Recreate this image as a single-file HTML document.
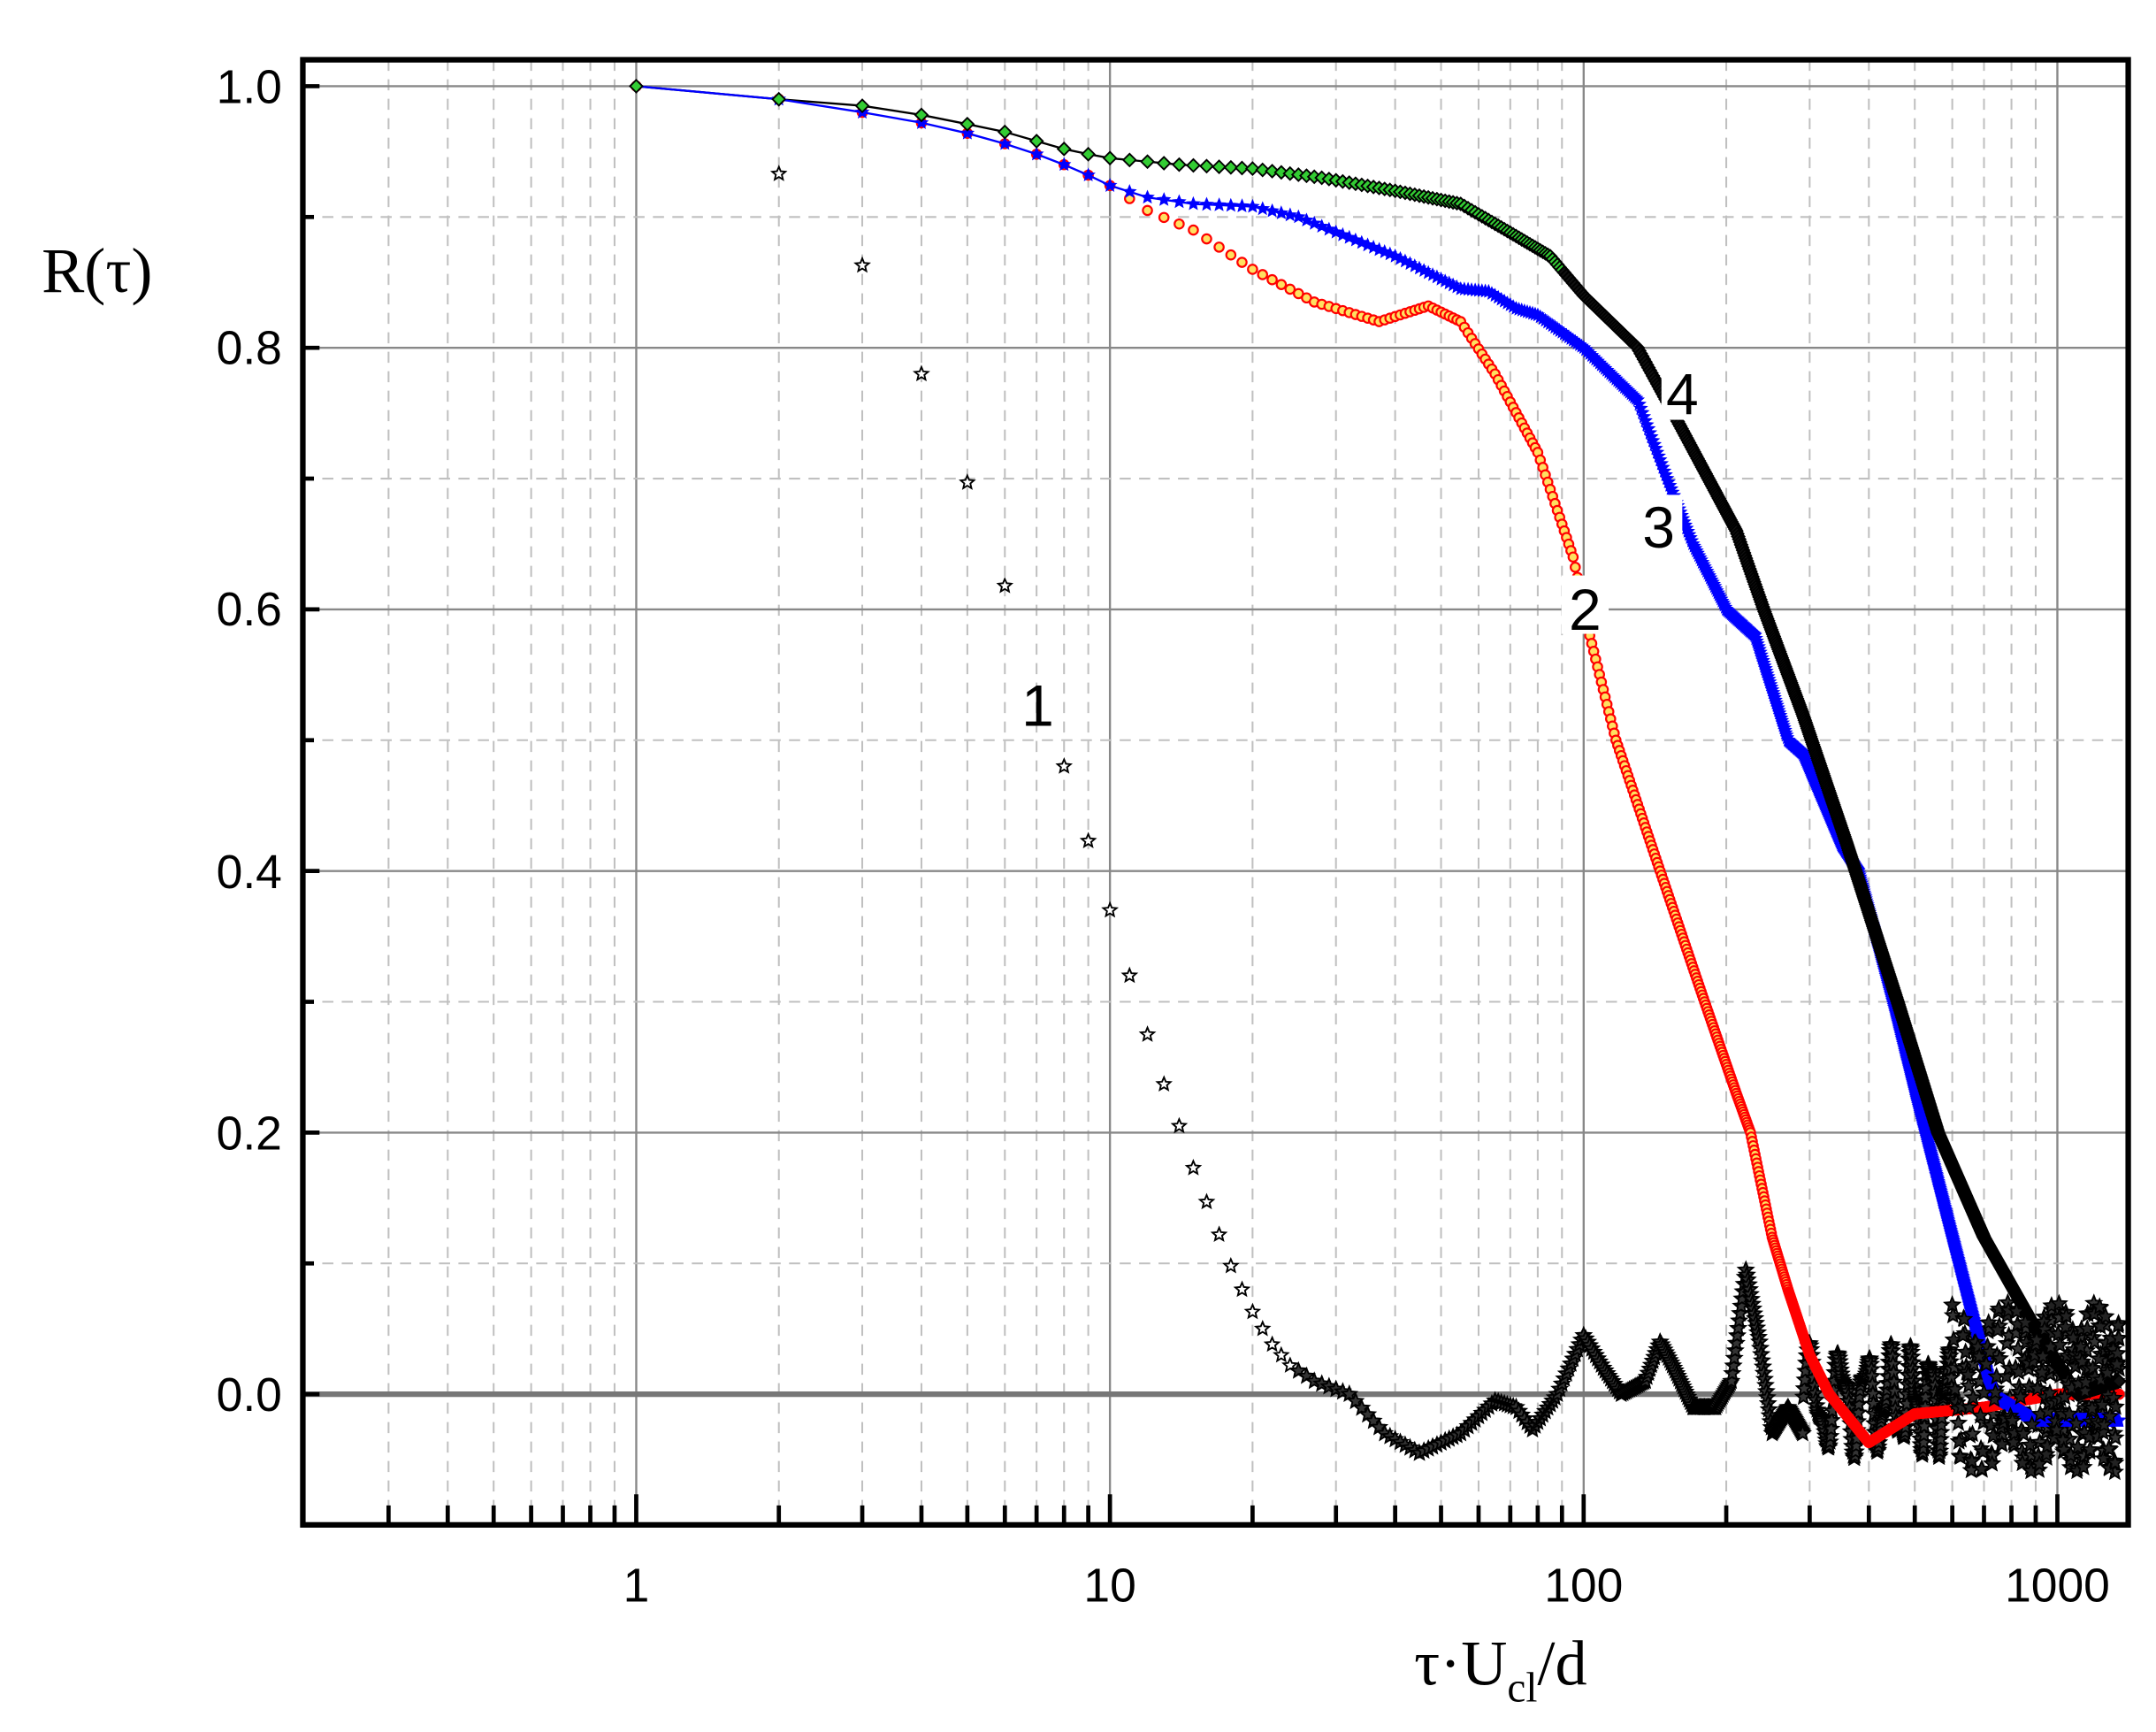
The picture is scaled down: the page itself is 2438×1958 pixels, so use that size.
<!DOCTYPE html>
<html><head><meta charset="utf-8"><style>html,body{margin:0;padding:0;background:#fff}svg{display:block}</style></head>
<body>
<svg id="s" width="2438" height="1958" viewBox="0 0 1552 1246" preserveAspectRatio="none" xmlns="http://www.w3.org/2000/svg">
<rect width="1552" height="1246" fill="#fff"/>
<g id="grid"></g>
<g id="data"></g>
<g id="axes"></g>
<g font-family="Liberation Sans, Arial, sans-serif" font-size="34" fill="#000" text-anchor="end">
<text x="203" y="74">1.0</text><text x="203" y="262">0.8</text><text x="203" y="450">0.6</text>
<text x="203" y="639">0.4</text><text x="203" y="827">0.2</text><text x="203" y="1015">0.0</text>
</g>
<g font-family="Liberation Sans, Arial, sans-serif" font-size="34" fill="#000" text-anchor="middle">
<text x="458" y="1152">1</text><text x="799" y="1152">10</text><text x="1140" y="1152">100</text><text x="1481" y="1152">1000</text>
</g>
<g font-family="Liberation Sans, Arial, sans-serif" font-size="42" fill="#000" text-anchor="middle">
<text x="747" y="522">1</text>
<rect x="1124" y="414" width="34" height="42" fill="#fff"/><text x="1141" y="453">2</text>
<rect x="1177" y="356" width="34" height="42" fill="#fff"/><text x="1194" y="394">3</text>
<rect x="1196" y="262" width="30" height="40" fill="#fff"/><text x="1211" y="298">4</text>
</g>
<text x="30" y="210" font-family="Liberation Serif, serif" font-size="46">R(τ)</text>
<text x="1018" y="1212" font-family="Liberation Serif, serif" font-size="46">τ·U<tspan font-size="30" dy="12">cl</tspan><tspan dy="-12">/d</tspan></text>
</svg>
<script>
const NS="http://www.w3.org/2000/svg";
const X=t=>458+341*Math.log10(t), Y=r=>1003-941*r;
const L=218,R=1532,T=43,B=1097;
function el(p,tag,a){const e=document.createElementNS(NS,tag);for(const k in a)e.setAttribute(k,a[k]);p.appendChild(e);return e;}
const g=document.getElementById('grid'),ax=document.getElementById('axes'),d=document.getElementById('data');
const minors=[];for(const dec of [0.1,1,10,100,1000])for(let m=2;m<=9;m++){const t=m*dec;const x=X(t);if(x>L+5&&x<R)minors.push(x);}
minors.forEach(x=>el(g,'line',{x1:x,x2:x,y1:T,y2:B,stroke:'#c0c0c0','stroke-width':1.3,'stroke-dasharray':'8 6'}));
[1,10,100,1000].forEach(t=>el(g,'line',{x1:X(t),x2:X(t),y1:T,y2:B,stroke:'#888','stroke-width':1.5}));
for(let i=1;i<=9;i+=2)el(g,'line',{x1:L,x2:R,y1:Y(i/10),y2:Y(i/10),stroke:'#c0c0c0','stroke-width':1.3,'stroke-dasharray':'8 6'});
for(let i=2;i<=10;i+=2)el(g,'line',{x1:L,x2:R,y1:Y(i/10),y2:Y(i/10),stroke:'#888','stroke-width':1.5});
el(g,'line',{x1:L,x2:R,y1:Y(0),y2:Y(0),stroke:'#777','stroke-width':4});
el(ax,'rect',{x:L,y:T,width:R-L,height:B-T,fill:'none',stroke:'#000','stroke-width':4});
minors.forEach(x=>el(ax,'line',{x1:x,x2:x,y1:B,y2:B-14,stroke:'#000','stroke-width':3}));
[1,10,100,1000].forEach(t=>el(ax,'line',{x1:X(t),x2:X(t),y1:B,y2:B-22,stroke:'#000','stroke-width':3}));
for(let i=0;i<=10;i++)el(ax,'line',{x1:L,x2:L+(i%2?8:12),y1:Y(i/10),y2:Y(i/10),stroke:'#000','stroke-width':3});
function interp(pts,t){const lt=Math.log10(t);for(let i=0;i<pts.length-1;i++){const a=Math.log10(pts[i][0]),b=Math.log10(pts[i+1][0]);if(lt>=a&&lt<=b){const f=(lt-a)/(b-a||1);return pts[i][1]+f*(pts[i+1][1]-pts[i][1]);}}return pts[pts.length-1][1];}
function star(x,y,r){let s='';for(let i=0;i<10;i++){const a=-Math.PI/2+i*Math.PI/5,rr=i%2?r*0.45:r;s+=(x+rr*Math.cos(a)).toFixed(1)+','+(y+rr*Math.sin(a)).toFixed(1)+' ';}return s;}
const tmax=1350;
const s4=[[1,1],[2,.99],[3,.985],[4,.978],[5,.971],[6,.965],[7,.958],[8,.952],[9,.948],[10,.945],[14,.94],[20,.937],[28,.93],[40,.92],[55,.91],[70,.888],[85,.87],[100,.84],[130,.8],[160,.74],[210,.66],[240,.6],[290,.52],[360,.42],[460,.3],[560,.2],[700,.12],[900,.05],[1100,0],[1350,.01]];
const s3=[[1,1],[2,.99],[3,.98],[4,.972],[5,.964],[6,.956],[7,.948],[8,.94],[9,.932],[10,.924],[12,.915],[15,.91],[20,.908],[25,.9],[40,.87],[55,.845],[63,.843],[72,.83],[80,.825],[100,.8],[130,.76],[150,.7],[170,.65],[200,.6],[230,.58],[270,.5],[290,.49],[350,.42],[380,.4],[450,.3],[510,.22],[620,.1],[730,0],[900,-.02],[1350,-.02]];
const s2=[[1,1],[2,.99],[3,.98],[4,.972],[5,.964],[6,.956],[7,.948],[8,.94],[9,.932],[10,.924],[12,.905],[15,.89],[20,.86],[27,.835],[37,.82],[47,.832],[55,.82],[65,.78],[80,.72],[95,.64],[103,.58],[117,.5],[145,.4],[180,.3],[210,.23],[225,.2],[250,.12],[270,.08],[300,.03],[330,0],[400,-.037],[500,-.015],[700,-.01],[1000,0],[1350,0]];
const s1=[[1,1],[2,.933],[3,.863],[4,.78],[5,.697],[6,.618],[7,.55],[8,.48],[9,.423],[10,.37],[11,.32],[12,.275],[13,.237],[14,.205],[15,.173],[16,.147],[17,.122],[18,.098],[19,.08],[20,.063],[21,.05],[22,.038],[24,.022],[27,.01],[32,0],[38,-.03],[45,-.045],[55,-.03],[65,-.005],[72,-.01],[78,-.027],[88,0],[100,.045],[110,.02],[120,0],[135,.01],[145,.04],[155,.02],[170,-.01],[190,-.01],[205,.01],[220,.095],[235,.04],[250,-.03],[270,-.01],[290,-.03]];
function noise1(t){if(t<=290)return interp(s1,t);
 if(t<600)return 0.032*Math.sin(2*Math.PI*t/48)+0.012*Math.sin(2*Math.PI*t/21)-0.005;
 return 0.045*Math.sin(2*Math.PI*t/37)+0.02*Math.sin(2*Math.PI*t/17)+0.005;}
let p='';for(let t=1;t<=tmax;t++)p+=(t==1?'M':'L')+X(t).toFixed(1)+','+Y(interp(s4,t)).toFixed(1);
el(d,'path',{d:p,fill:'none',stroke:'#000','stroke-width':1.5});
for(let t=2;t<=tmax;t++){if(t==7)continue;if(t>600&&t%2)continue;const v=noise1(t);el(d,'polygon',{points:star(X(t),Y(v),t<25?5:5.5),fill:t<25?'#fff':'#333',stroke:'#000','stroke-width':1.2});}
for(let t=1;t<=tmax;t++){el(d,'circle',{cx:X(t),cy:Y(interp(s2,t)),r:3.3,fill:t>270?'#f00':'#ffe060',stroke:'#f00','stroke-width':1.4});}
p='';for(let t=1;t<=tmax;t++)p+=(t==1?'M':'L')+X(t).toFixed(1)+','+Y(interp(s3,t)).toFixed(1);
el(d,'path',{d:p,fill:'none',stroke:'#00f','stroke-width':1.5});
for(let t=2;t<=tmax;t++){el(d,'polygon',{points:star(X(t),Y(interp(s3,t)),4.5),fill:'#00f',stroke:'#00f','stroke-width':0.8});}
for(let t=1;t<=tmax;t++){const x=X(t),y=Y(interp(s4,t)),r=4.5;el(d,'polygon',{points:`${x},${y-r} ${x+r},${y} ${x},${y+r} ${x-r},${y}`,fill:t>90?'#111':'#3c3',stroke:'#000','stroke-width':1.2});}
for(let t=600;t<=tmax;t+=4){el(d,'polygon',{points:star(X(t),Y(noise1(t)),5.5),fill:'#222',stroke:'#000','stroke-width':1});}
</script>
</body></html>
